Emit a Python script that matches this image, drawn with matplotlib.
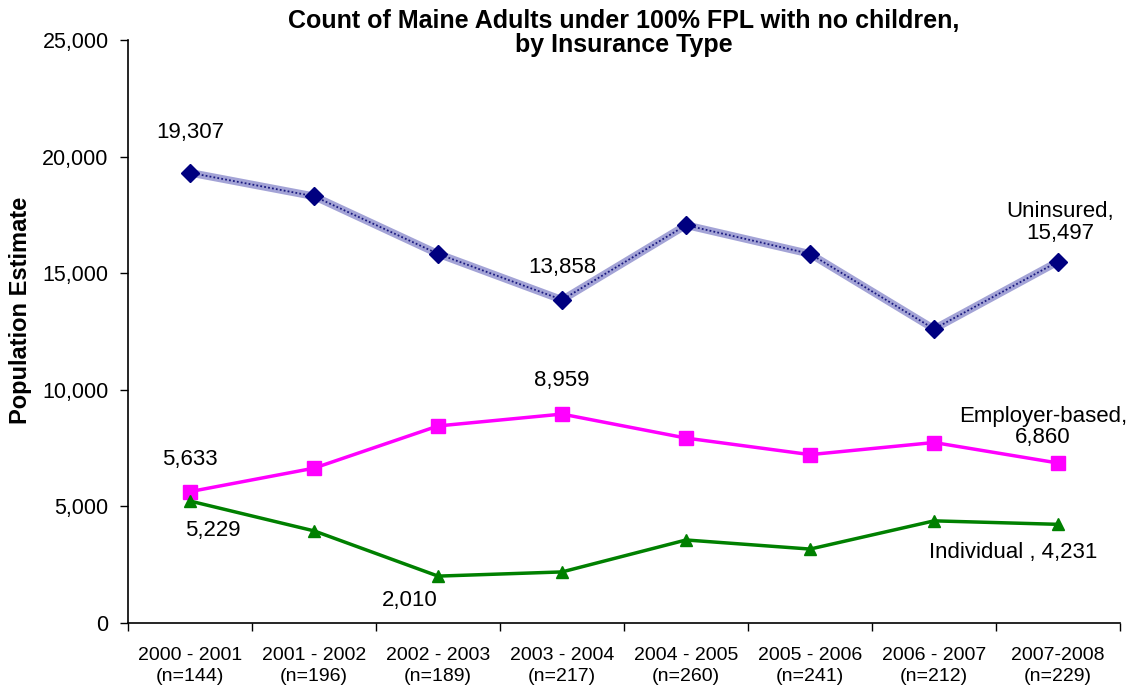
import matplotlib.pyplot as plt
import numpy as np
from matplotlib.ticker import FuncFormatter

plt.rcParams['font.family'] = ['Liberation Sans', 'DejaVu Sans']

periods = ['2000 - 2001', '2001 - 2002', '2002 - 2003', '2003 - 2004',
           '2004 - 2005', '2005 - 2006', '2006 - 2007', '2007-2008']
sample_n = [144, 196, 189, 217, 260, 241, 212, 229]

uninsured = [19307, 18300, 15830, 13858, 17060, 15830, 12610, 15497]
employer = [5633, 6640, 8450, 8959, 7930, 7220, 7740, 6860]
individual = [5229, 3950, 2010, 2190, 3560, 3170, 4380, 4231]

x = np.arange(len(periods))

fig = plt.figure(figsize=(11.4, 6.96), dpi=100)
ax = fig.add_axes([0.1123, 0.1049, 0.8702, 0.8376])

# textured uninsured line: pale band with a fine navy dotted core
ax.plot(x, uninsured, color='#a3a3d6', lw=5.5, solid_capstyle='butt', zorder=2)
ax.plot(x, uninsured, color='#1a1a80', lw=1.3, ls=(0, (1, 1.2)), zorder=3)
ax.plot(x, uninsured, ls='none', marker='D', color='#000080', ms=9, zorder=4)

ax.plot(x, employer, color='#ff00ff', lw=2.5, marker='s', ms=10.5, zorder=3)
ax.plot(x, individual, color='#008000', lw=2.5, marker='^', ms=8, zorder=3)

ax.set_xlim(-0.5, len(periods) - 0.5)
ax.set_ylim(0, 25000)
ax.set_yticks(np.arange(0, 25001, 5000))
ax.yaxis.set_major_formatter(FuncFormatter(lambda v, p: f'{int(v):,}'))
ax.tick_params(axis='y', labelsize=15.5, length=6, width=1, direction='out', pad=8)

# category boundaries carry the tick marks, centres carry the labels
ax.set_xticks(np.arange(-0.5, len(periods), 1.0))
ax.set_xticklabels([])
ax.tick_params(axis='x', which='major', length=6, width=1, direction='out')
ax.set_xticks(x, minor=True)
ax.set_xticklabels([f'{p}\n(n={n})' for p, n in zip(periods, sample_n)], minor=True,
                   linespacing=1.35)
ax.tick_params(axis='x', which='minor', length=0, labelsize=14, pad=17)

for s in ['top', 'right']:
    ax.spines[s].set_visible(False)
for s in ['left', 'bottom']:
    ax.spines[s].set_linewidth(1.2)

ax.set_ylabel('Population Estimate', fontsize=17, fontweight='bold')
ax.yaxis.set_label_coords(-0.0968, 0.537)
fig.text(0.547, 1 - 33 / 696,
         'Count of Maine Adults under 100% FPL with no children,\nby Insurance Type',
         ha='center', va='center', fontsize=18, fontweight='bold', linespacing=1.05)


def label(i, values, text, dx, dy):
    ax.annotate(text, (x[i], values[i]), xytext=(dx, dy), textcoords='offset pixels',
                ha='center', va='center', fontsize=16, linespacing=1.05)


label(0, uninsured, f'{uninsured[0]:,}', 0, 40)
label(3, uninsured, f'{uninsured[3]:,}', 0, 32)
label(7, uninsured, f'Uninsured,\n{uninsured[7]:,}', 2, 39)
label(3, employer, f'{employer[3]:,}', 0, 34)
label(0, employer, f'{employer[0]:,}', 0, 32)
label(7, employer, f'Employer-based,\n{employer[7]:,}', -15, 36)
label(0, individual, f'{individual[0]:,}', 23, -29)
label(2, individual, f'{individual[2]:,}', -28, -24)
label(7, individual, f'Individual , {individual[7]:,}', -45, -28)

fig.savefig('out.png', dpi=100)
